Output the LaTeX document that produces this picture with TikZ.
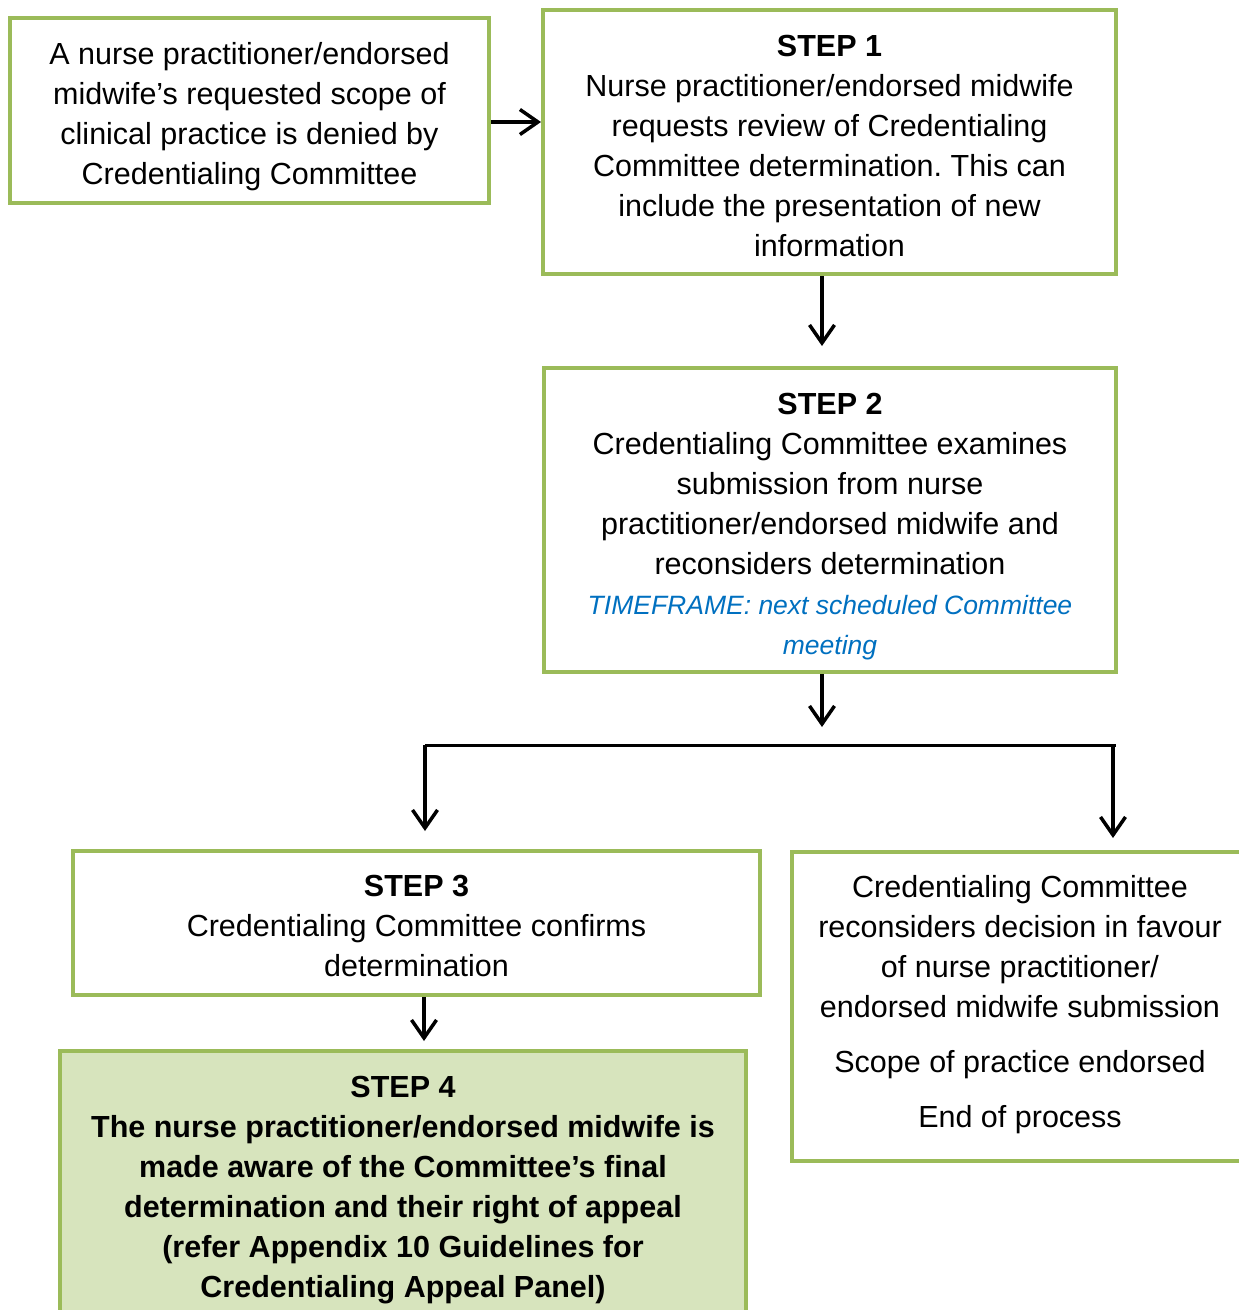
\documentclass[tikz,border=0pt]{standalone}
\usepackage{fontspec}
\setmainfont{Liberation Sans}
\frenchspacing
\usetikzlibrary{arrows.meta}
\definecolor{boxgreen}{HTML}{9BBB59}
\definecolor{fillgreen}{HTML}{D7E4BD}
\definecolor{tfblue}{HTML}{0070C0}
\tikzset{
  box/.style={draw=boxgreen, line width=4pt, fill=white, inner sep=0pt},
  txt/.style={align=center, inner sep=0pt, font=\fontsize{30.5}{40}\selectfont},
  arr/.style={draw=black, line width=3.5pt, -{Straight Barb[length=18pt,width=25pt,line width=3.5pt]}},
  bar/.style={draw=black, line width=3pt},
}
\newcommand{\tf}[1]{{\color{tfblue}\fontsize{26.5}{40}\selectfont\itshape #1}}
\begin{document}
\begin{tikzpicture}[x=1pt,y=-1pt]
\useasboundingbox (0,0) rectangle (1239,1310);
\clip (0,0) rectangle (1239,1310);
\node[box, minimum width=479pt, minimum height=185pt] (a) at (249.5,110.5) {};
\node[txt, yshift=-6pt] (at) at (a.center)
  {A nurse practitioner/endorsed\\midwife’s requested scope of\\clinical practice is denied by\\Credentialing Committee};
\node[box, minimum width=573pt, minimum height=264pt] (s1) at (829.5,142) {};
\node[txt, yshift=-4pt] (s1t) at (s1.center)
  {\textbf{STEP 1}\\Nurse practitioner/endorsed midwife\\requests review of Credentialing\\Committee determination. This can\\include the presentation of new\\information};
\node[box, minimum width=572pt, minimum height=304pt] (s2) at (830,520) {};
\node[txt, yshift=-6.5pt] (s2t) at (s2.center)
  {\textbf{STEP 2}\\Credentialing Committee examines\\submission from nurse\\practitioner/endorsed midwife and\\reconsiders determination\\\tf{TIMEFRAME: next scheduled Committee}\\\tf{meeting}};
\node[box, minimum width=687pt, minimum height=144pt] (s3) at (416.5,923) {};
\node[txt, yshift=-3pt] (s3t) at (s3.center)
  {\textbf{STEP 3}\\Credentialing Committee confirms\\determination};
\node[box, minimum width=456pt, minimum height=309pt] (r) at (1020,1006.5) {};
\node[txt, yshift=1.5pt] (rt) at (r.center)
  {Credentialing Committee\\reconsiders decision in favour\\of nurse practitioner/\\endorsed midwife submission\\[15pt]Scope of practice endorsed\\[15pt]End of process};
\node[box, fill=fillgreen, minimum width=686pt, minimum height=272pt] (s4) at (403,1187) {};
\node[txt, yshift=-3pt, font=\fontsize{30.5}{40}\selectfont\bfseries] (s4t) at (s4.center)
  {STEP 4\\The nurse practitioner/endorsed midwife is\\made aware of the Committee’s final\\determination and their right of appeal\\(refer Appendix 10 Guidelines for\\Credentialing Appeal Panel)};
\coordinate (barL) at (425,745);
\coordinate (barR) at (1116,745);
\coordinate (barM) at (822,745);
\coordinate (barRd) at (1113,745);
\draw[arr] (a.east |- 0,122) -- (s1.west |- 0,122);
\draw[arr, shorten >=20pt] (s1.south -| barM) -- (s2.north -| barM);
\draw[arr, shorten >=18pt] (s2.south -| barM) -- (barM);
\draw[bar] (barL) -- (barR);
\draw[arr, shorten >=18pt] (barL) -- (s3.north -| barL);
\draw[arr, shorten >=12pt] (barRd) -- (r.north -| barRd);
\draw[arr, shorten >=8pt] (s3.south -| 424,0) -- (s4.north -| 424,0);
\end{tikzpicture}
\end{document}
